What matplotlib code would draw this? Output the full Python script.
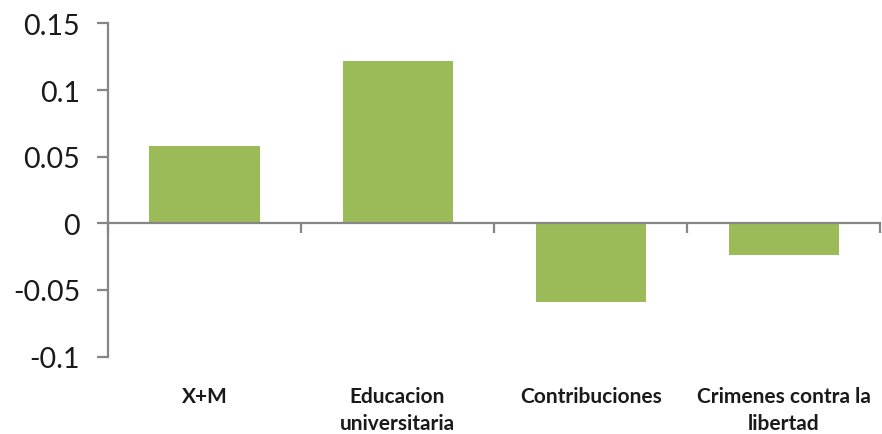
import matplotlib
matplotlib.use("Agg")
import matplotlib.pyplot as plt
import matplotlib.transforms as mtransforms
import numpy as np

categories = ["X+M", "Educacion\nuniversitaria", "Contribuciones", "Crimenes contra la\nlibertad"]
values = [0.058, 0.122, -0.059, -0.024]
yticks = [-0.1, -0.05, 0, 0.05, 0.1, 0.15]
ytick_labels = ["-0.1", "-0.05", "0", "0.05", "0.1", "0.15"]

bar_color = "#9BBB59"
axis_color = "#868686"
text_color = "#1a1a1a"

fig = plt.figure(figsize=(8.82, 4.35), dpi=100)
ax = fig.add_axes([0.1224, 0.178, 0.8756, 0.7657])

x = np.arange(len(categories))
ax.bar(x, values, width=0.57, color=bar_color, zorder=2)

ax.set_xlim(-0.5, len(categories) - 0.5)
ax.set_ylim(-0.1, 0.15)

# y axis
ax.set_yticks(yticks)
ax.set_yticklabels(ytick_labels, fontsize=20.5, family="Lato", color=text_color)
ax.tick_params(axis="y", direction="out", length=8, width=1.6, color=axis_color, pad=12)

# horizontal axis drawn at zero, ticks at category boundaries
ax.spines["bottom"].set_position(("data", 0))
ax.spines["bottom"].set_color(axis_color)
ax.spines["bottom"].set_linewidth(1.6)
ax.spines["bottom"].set_zorder(3)
ax.spines["left"].set_color(axis_color)
ax.spines["left"].set_linewidth(1.6)
ax.spines["top"].set_visible(False)
ax.spines["right"].set_visible(False)
ax.set_xticks(np.arange(len(categories) + 1) - 0.5)
ax.set_xticklabels([])
ax.tick_params(axis="x", direction="out", length=7, width=1.6, color=axis_color)

# category labels below the plot area
trans = mtransforms.blended_transform_factory(ax.transData, ax.transAxes)
for xi, label in zip(x, categories):
    ax.text(xi, -0.088, label, transform=trans, ha="center", va="top",
            fontsize=15, family="Lato", fontweight="bold", color=text_color,
            linespacing=1.45)

fig.savefig("out.png", dpi=100)
